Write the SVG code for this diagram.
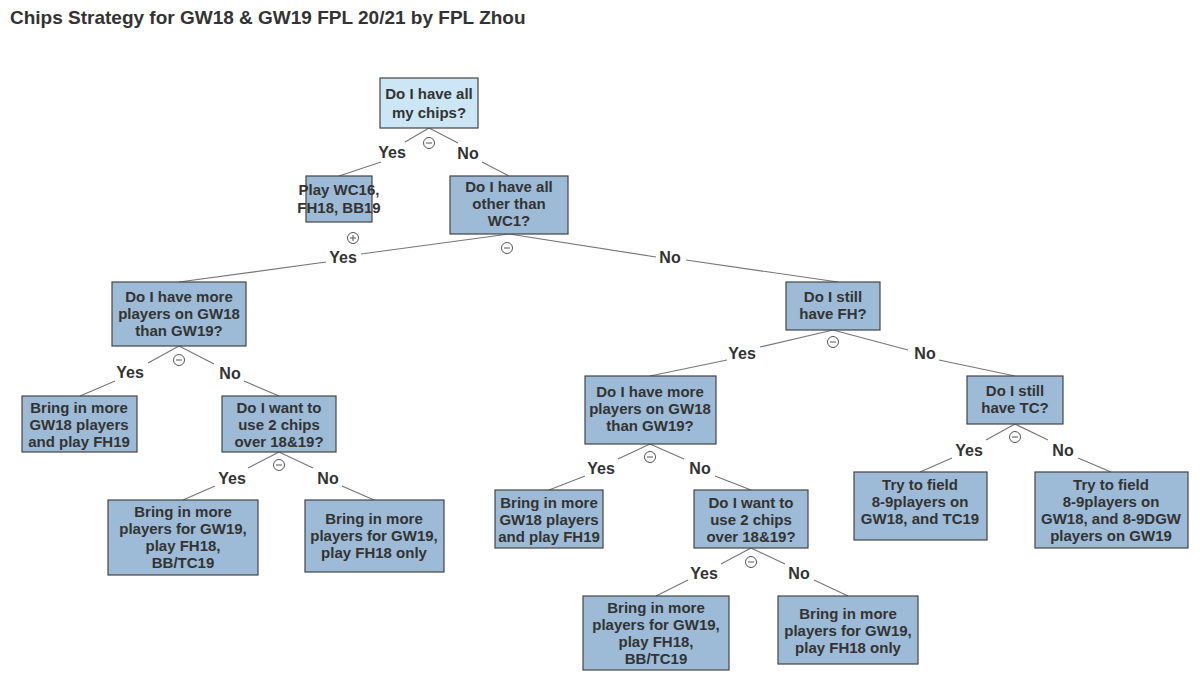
<svg xmlns="http://www.w3.org/2000/svg" width="1200" height="681" viewBox="0 0 1200 681">
<style>
text{font-family:"Liberation Sans",Arial,sans-serif;font-weight:bold;fill:#333}
.t{font-size:15px;text-anchor:middle}
.l{font-size:16px;text-anchor:middle}
.n rect{fill:#9dbbd6;stroke:#444;stroke-width:1.2}
.r rect{fill:#cde6f6}
#edges path{fill:none;stroke:#777;stroke-width:1.2}
.c{fill:#fff;stroke:#555;stroke-width:1}
.s{stroke:#555;stroke-width:1}
</style>
<defs>
<g id="minus"><circle class="c" r="5.5"/><line class="s" x1="-3" x2="3"/></g>
<g id="plus"><circle class="c" r="5.5"/><line class="s" x1="-3" x2="3"/><line class="s" y1="-3" y2="3"/></g>
</defs>
<rect width="1200" height="681" fill="#fff"/>
<text x="10" y="24" style="font-size:19px">Chips Strategy for GW18 &amp; GW19 FPL 20/21 by FPL Zhou</text>
<g id="edges">
<path d="M429,128 L405,142 M381,162 L339,176"/>
<path d="M429,128 L458,143 M482,162 L509,176"/>
<path d="M509,234 L361,254 M326,262 L179,282"/>
<path d="M509,234 L656,257 M686,260 L838,282"/>
<path d="M179,346 L148,363 M115,381 L80,396"/>
<path d="M179,346 L214,364 M244,381 L279,396"/>
<path d="M279,452 L248,468 M215,486 L183,500"/>
<path d="M279,452 L313,468 M342,486 L374,500"/>
<path d="M833,330 L760,347 M727,360 L650,376"/>
<path d="M833,330 L908,350 M939,360 L1015,376"/>
<path d="M650,444 L618,459 M585,476 L549,490"/>
<path d="M650,444 L684,459 M715,476 L751,490"/>
<path d="M751,548 L721,564 M688,580 L656,596"/>
<path d="M751,548 L785,564 M814,580 L848,596"/>
<path d="M1015,424 L986,440 M952,458 L920,472"/>
<path d="M1015,424 L1048,440 M1078,458 L1111,472"/>
</g>
<g class="l">
<text x="392" y="158">Yes</text><text x="468" y="159">No</text>
<text x="343" y="263">Yes</text><text x="670" y="263">No</text>
<text x="130" y="378">Yes</text><text x="230" y="379">No</text>
<text x="232" y="484">Yes</text><text x="328" y="484">No</text>
<text x="742" y="359">Yes</text><text x="925" y="359">No</text>
<text x="601" y="474">Yes</text><text x="700" y="474">No</text>
<text x="704" y="579">Yes</text><text x="799" y="579">No</text>
<text x="969" y="456">Yes</text><text x="1063" y="456">No</text>
</g>
<use href="#minus" x="429" y="143"/><use href="#plus" x="353" y="238"/><use href="#minus" x="507" y="248"/>
<use href="#minus" x="179" y="360"/><use href="#minus" x="279" y="465"/><use href="#minus" x="833" y="342"/>
<use href="#minus" x="650" y="457"/><use href="#minus" x="751" y="562"/><use href="#minus" x="1015" y="437"/>
<g id="n1" class="n r"><rect x="380" y="78" width="98" height="50"/><text class="t" x="429" y="99">Do I have all</text><text class="t" x="429" y="118">my chips?</text></g>
<g id="n2" class="n"><rect x="306" y="176" width="66" height="46"/><text class="t" x="339" y="195">Play WC16,</text><text class="t" x="339" y="213">FH18, BB19</text></g>
<g id="n3" class="n"><rect x="450" y="176" width="118" height="58"/><text class="t" x="509" y="192">Do I have all</text><text class="t" x="509" y="209">other than</text><text class="t" x="509" y="226">WC1?</text></g>
<g id="n4" class="n"><rect x="112" y="282" width="134" height="64"/><text class="t" x="179" y="302">Do I have more</text><text class="t" x="179" y="319">players on GW18</text><text class="t" x="179" y="336">than GW19?</text></g>
<g id="n5" class="n"><rect x="786" y="282" width="94" height="48"/><text class="t" x="833" y="302">Do I still</text><text class="t" x="833" y="319">have FH?</text></g>
<g id="n6" class="n"><rect x="22" y="396" width="115" height="56"/><text class="t" x="79" y="413">Bring in more</text><text class="t" x="79" y="430">GW18 players</text><text class="t" x="79" y="447">and play FH19</text></g>
<g id="n7" class="n"><rect x="222" y="396" width="114" height="56"/><text class="t" x="279" y="413">Do I want to</text><text class="t" x="279" y="430">use 2 chips</text><text class="t" x="279" y="447">over 18&amp;19?</text></g>
<g id="n8" class="n"><rect x="108" y="500" width="150" height="75"/><text class="t" x="183" y="517">Bring in more</text><text class="t" x="183" y="534">players for GW19,</text><text class="t" x="183" y="551">play FH18,</text><text class="t" x="183" y="568">BB/TC19</text></g>
<g id="n9" class="n"><rect x="305" y="500" width="139" height="72"/><text class="t" x="374" y="524">Bring in more</text><text class="t" x="374" y="541">players for GW19,</text><text class="t" x="374" y="558">play FH18 only</text></g>
<g id="n10" class="n"><rect x="585" y="376" width="131" height="68"/><text class="t" x="650" y="397">Do I have more</text><text class="t" x="650" y="414">players on GW18</text><text class="t" x="650" y="431">than GW19?</text></g>
<g id="n11" class="n"><rect x="967" y="376" width="96" height="48"/><text class="t" x="1015" y="396">Do I still</text><text class="t" x="1015" y="413">have TC?</text></g>
<g id="n12" class="n"><rect x="495" y="490" width="108" height="58"/><text class="t" x="549" y="508">Bring in more</text><text class="t" x="549" y="525">GW18 players</text><text class="t" x="549" y="542">and play FH19</text></g>
<g id="n13" class="n"><rect x="694" y="490" width="114" height="58"/><text class="t" x="751" y="508">Do I want to</text><text class="t" x="751" y="525">use 2 chips</text><text class="t" x="751" y="542">over 18&amp;19?</text></g>
<g id="n14" class="n"><rect x="583" y="596" width="146" height="74"/><text class="t" x="656" y="613">Bring in more</text><text class="t" x="656" y="630">players for GW19,</text><text class="t" x="656" y="647">play FH18,</text><text class="t" x="656" y="664">BB/TC19</text></g>
<g id="n15" class="n"><rect x="778" y="596" width="140" height="68"/><text class="t" x="848" y="619">Bring in more</text><text class="t" x="848" y="636">players for GW19,</text><text class="t" x="848" y="653">play FH18 only</text></g>
<g id="n16" class="n"><rect x="854" y="472" width="133" height="68"/><text class="t" x="920" y="490">Try to field</text><text class="t" x="920" y="507">8-9players on</text><text class="t" x="920" y="524">GW18, and TC19</text></g>
<g id="n17" class="n"><rect x="1035" y="472" width="153" height="76"/><text class="t" x="1111" y="490">Try to field</text><text class="t" x="1111" y="507">8-9players on</text><text class="t" x="1111" y="524">GW18, and 8-9DGW</text><text class="t" x="1111" y="541">players on GW19</text></g>
</svg>
